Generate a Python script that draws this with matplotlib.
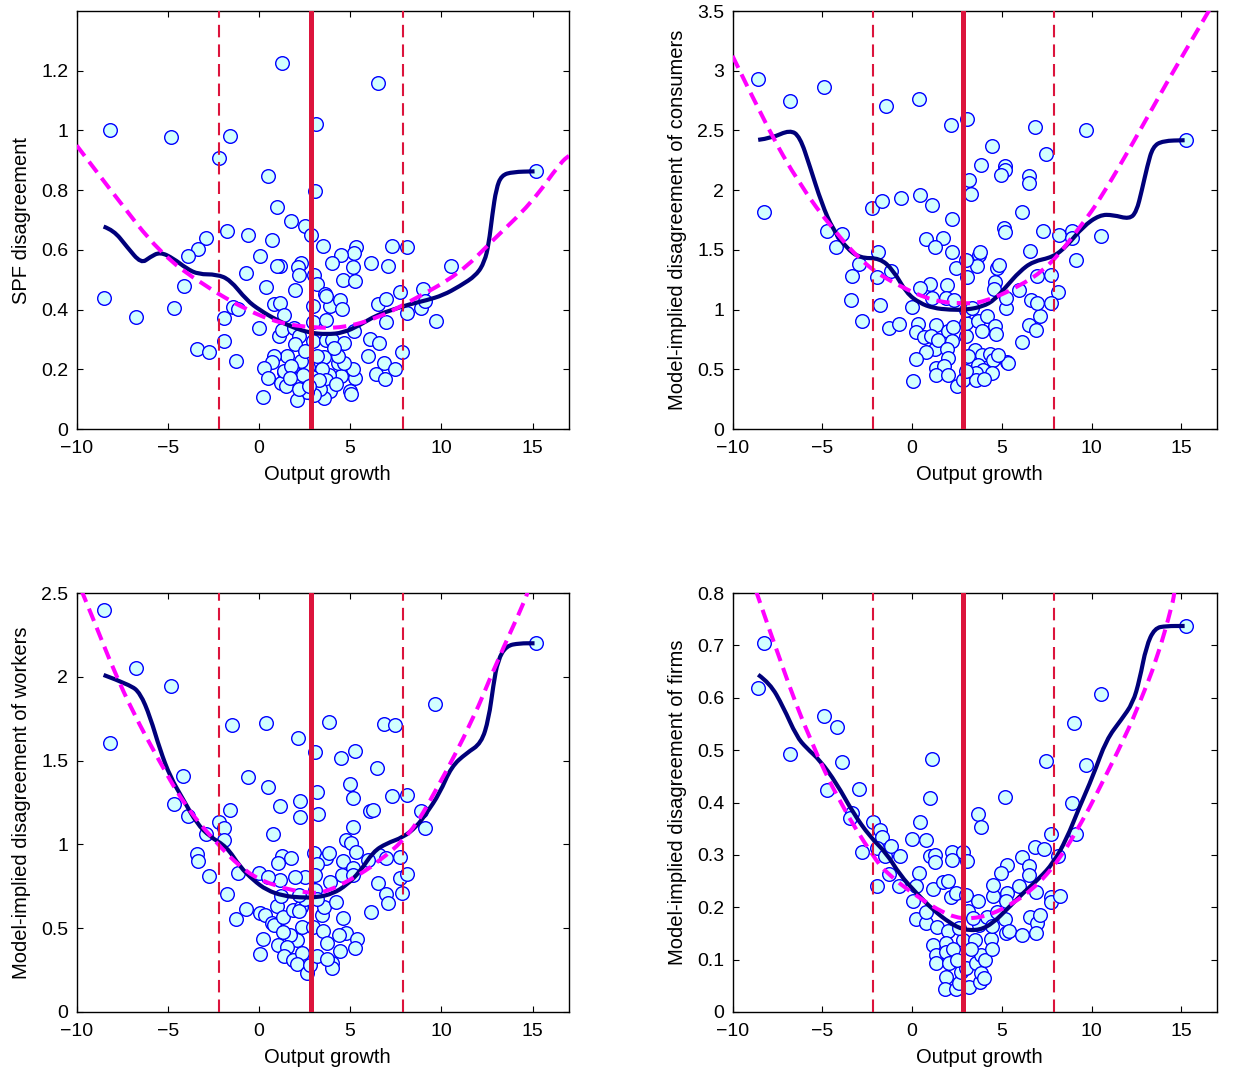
import matplotlib
matplotlib.use("Agg")
import matplotlib.pyplot as plt
from matplotlib.path import Path
from matplotlib.patches import PathPatch

plt.rcParams['font.family'] = ['Liberation Sans', 'DejaVu Sans']

# vertical reference lines (output growth)
band_lo, band_mid, band_hi = -2.2, 2.85, 7.92

# scatter points (output growth, disagreement)
spf_pts = [(1.28, 1.225), (6.53, 1.158), (-8.16, 1.003), (-4.85, 0.978), (-1.61, 0.981), (3.12, 1.02),
           (-2.17, 0.907), (0.47, 0.847), (3.07, 0.796), (15.2, 0.863), (1.0, 0.742), (1.77, 0.698),
           (2.5, 0.68), (2.88, 0.651), (-1.73, 0.664), (-0.6, 0.651), (0.69, 0.634), (-2.92, 0.639),
           (-3.34, 0.603), (-3.89, 0.578), (3.5, 0.613), (7.3, 0.614), (8.14, 0.608), (5.31, 0.609),
           (5.2, 0.588), (4.49, 0.583), (0.07, 0.578), (6.15, 0.557), (3.98, 0.556), (2.28, 0.556),
           (2.15, 0.543), (1.13, 0.546), (0.99, 0.546), (7.06, 0.546), (10.51, 0.546), (5.16, 0.543),
           (-0.71, 0.524), (2.19, 0.517), (3.01, 0.515), (4.6, 0.5), (5.29, 0.497), (3.16, 0.485),
           (-4.12, 0.479), (0.38, 0.476), (1.99, 0.465), (7.72, 0.458), (8.98, 0.469), (-8.52, 0.439),
           (3.63, 0.452), (-6.72, 0.375), (-4.67, 0.405), (-3.41, 0.269), (-2.74, 0.259), (-1.92, 0.294),
           (-1.92, 0.372), (-1.44, 0.407), (-1.13, 0.401), (-1.28, 0.227), (0.02, 0.337), (0.8, 0.42),
           (1.15, 0.422), (1.37, 0.381), (1.09, 0.311), (1.24, 0.331), (1.93, 0.337), (2.17, 0.312),
           (1.95, 0.284), (2.96, 0.411), (2.97, 0.358), (3.7, 0.365), (3.89, 0.411), (3.65, 0.447),
           (4.47, 0.432), (4.56, 0.402), (2.97, 0.295), (3.65, 0.298), (3.98, 0.298), (4.65, 0.289),
           (5.2, 0.328), (6.11, 0.303), (6.57, 0.289), (6.5, 0.418), (6.95, 0.435), (6.99, 0.357),
           (8.13, 0.387), (8.9, 0.404), (9.12, 0.428), (9.69, 0.361), (7.84, 0.257), (5.96, 0.245),
           (6.86, 0.222), (7.48, 0.2), (6.44, 0.184), (6.9, 0.166), (5.29, 0.17), (5.16, 0.2),
           (4.98, 0.128), (5.04, 0.117), (4.49, 0.178), (4.34, 0.22), (4.65, 0.22), (4.36, 0.245),
           (3.58, 0.242), (3.86, 0.18), (3.44, 0.2), (3.67, 0.164), (3.89, 0.127), (3.58, 0.105),
           (3.34, 0.134), (3.01, 0.114), (2.65, 0.125), (2.67, 0.208), (2.92, 0.175), (2.28, 0.227),
           (1.82, 0.2), (2.06, 0.166), (2.06, 0.097), (1.38, 0.192), (1.52, 0.245), (0.84, 0.245),
           (0.73, 0.223), (0.27, 0.203), (0.51, 0.172), (0.24, 0.108), (1.19, 0.153), (1.46, 0.144),
           (1.37, 0.194), (1.73, 0.212), (2.39, 0.18), (2.5, 0.26), (3.2, 0.245), (4.1, 0.27),
           (2.2, 0.135), (3.3, 0.165), (4.2, 0.15), (1.7, 0.17), (2.75, 0.145)]

cons_pts = [(-8.57, 2.934), (-6.77, 2.747), (-4.9, 2.867), (-8.24, 1.821), (-1.46, 2.705), (0.36, 2.767),
            (2.15, 2.549), (3.06, 2.597), (6.87, 2.53), (9.7, 2.507), (15.23, 2.418), (4.47, 2.373),
            (7.48, 2.304), (3.86, 2.209), (5.16, 2.198), (5.2, 2.17), (4.97, 2.128), (6.49, 2.122),
            (6.53, 2.061), (3.17, 2.086), (3.27, 1.969), (-2.23, 1.849), (-1.65, 1.913), (-0.63, 1.933),
            (0.43, 1.961), (1.11, 1.874), (2.25, 1.762), (6.12, 1.816), (-4.76, 1.659), (-3.9, 1.634),
            (-4.21, 1.526), (0.76, 1.595), (1.75, 1.598), (1.26, 1.526), (5.12, 1.679), (5.17, 1.65),
            (7.29, 1.662), (8.16, 1.626), (8.9, 1.654), (8.92, 1.6), (10.54, 1.618), (9.11, 1.417),
            (6.55, 1.492), (-1.91, 1.486), (-2.95, 1.383), (-3.37, 1.277), (-1.95, 1.269), (-1.17, 1.319),
            (2.25, 1.478), (2.43, 1.347), (3.73, 1.459), (3.78, 1.48), (3.64, 1.361), (3.03, 1.417),
            (3.08, 1.269), (4.75, 1.347), (4.83, 1.37), (4.6, 1.235), (4.55, 1.172), (1.02, 1.216),
            (1.97, 1.208), (0.43, 1.177), (5.94, 1.166), (6.98, 1.283), (7.72, 1.291), (8.13, 1.143),
            (-3.41, 1.079), (-1.78, 1.038), (-2.78, 0.904), (-1.3, 0.845), (-0.74, 0.879), (0.02, 1.021),
            (1.11, 1.096), (1.91, 1.101), (2.32, 1.082), (0.33, 0.881), (0.21, 0.812), (0.69, 0.77),
            (1.36, 0.873), (1.08, 0.775), (1.26, 0.672), (0.76, 0.641), (0.24, 0.586), (0.06, 0.398),
            (1.47, 0.747), (2.0, 0.817), (2.28, 0.85), (2.25, 0.741), (1.95, 0.672), (2.0, 0.594),
            (1.36, 0.51), (1.78, 0.524), (1.36, 0.449), (2.0, 0.449), (2.53, 0.357), (2.84, 0.413),
            (3.03, 0.775), (2.99, 0.887), (3.03, 0.998), (3.36, 1.013), (3.67, 0.906), (3.9, 0.823),
            (4.17, 0.942), (4.6, 0.864), (4.66, 0.795), (3.49, 0.658), (3.12, 0.608), (3.9, 0.62),
            (4.36, 0.63), (4.51, 0.58), (3.67, 0.538), (3.95, 0.491), (4.47, 0.469), (3.58, 0.469),
            (3.58, 0.413), (3.99, 0.418), (5.21, 1.009), (5.25, 1.096), (5.29, 0.557), (5.35, 0.55),
            (6.14, 0.725), (6.51, 0.87), (6.92, 0.831), (7.11, 0.942), (6.61, 1.082), (6.96, 1.059),
            (7.72, 1.059), (2.99, 0.482), (4.79, 0.622)]

work_pts = [(-8.52, 2.4), (-6.72, 2.051), (-4.85, 1.948), (-8.16, 1.603), (15.2, 2.2), (9.67, 1.836),
            (-1.46, 1.713), (0.4, 1.723), (3.85, 1.729), (6.84, 1.719), (7.46, 1.713), (2.13, 1.633),
            (3.05, 1.55), (4.49, 1.514), (5.29, 1.557), (6.48, 1.456), (-4.14, 1.408), (-0.6, 1.404),
            (0.48, 1.344), (3.16, 1.314), (4.98, 1.362), (5.16, 1.278), (7.3, 1.29), (8.14, 1.293),
            (2.24, 1.26), (1.13, 1.229), (2.24, 1.163), (3.25, 1.183), (-4.67, 1.241), (-3.89, 1.171),
            (-1.6, 1.207), (6.11, 1.199), (6.24, 1.205), (8.9, 1.199), (9.12, 1.096), (-2.17, 1.135),
            (-1.9, 1.096), (-1.92, 1.026), (-2.92, 1.062), (0.78, 1.062), (5.16, 1.102), (4.75, 1.026),
            (5.02, 1.006), (5.31, 0.956), (-3.41, 0.94), (-3.34, 0.9), (1.26, 0.932), (1.75, 0.916),
            (1.02, 0.892), (3.01, 0.95), (3.65, 0.916), (3.85, 0.946), (4.62, 0.902), (6.58, 0.936),
            (6.99, 0.916), (7.72, 0.926), (5.98, 0.906), (-2.74, 0.811), (-1.13, 0.827), (0.02, 0.827),
            (7.72, 0.8), (8.14, 0.821), (-1.77, 0.703), (-1.26, 0.552), (-0.73, 0.613), (0.05, 0.588),
            (0.33, 0.58), (0.69, 0.532), (0.8, 0.52), (1.0, 0.631), (1.3, 0.568), (1.19, 0.691),
            (1.88, 0.608), (2.28, 0.627), (2.2, 0.6), (2.34, 0.508), (2.06, 0.432), (1.7, 0.458),
            (1.33, 0.478), (0.24, 0.434), (0.05, 0.349), (1.06, 0.398), (1.55, 0.388), (1.37, 0.333),
            (1.88, 0.309), (2.34, 0.352), (2.06, 0.289), (2.61, 0.235), (2.79, 0.279), (2.97, 0.508),
            (3.19, 0.333), (3.52, 0.482), (3.71, 0.412), (3.43, 0.578), (3.57, 0.627), (4.21, 0.657),
            (3.92, 0.777), (4.53, 0.817), (5.13, 0.86), (5.15, 0.82), (4.62, 0.558), (4.76, 0.472),
            (4.4, 0.462), (4.43, 0.364), (5.4, 0.438), (5.25, 0.382), (3.98, 0.293), (3.98, 0.26),
            (3.71, 0.319), (6.17, 0.594), (6.53, 0.767), (6.95, 0.707), (7.08, 0.651), (7.84, 0.711),
            (3.16, 0.886), (3.08, 0.817), (2.52, 0.807), (1.97, 0.807), (1.15, 0.787), (0.51, 0.807),
            (3.07, 0.727), (3.16, 0.677), (2.52, 0.677), (2.2, 0.7)]

firm_pts = [(-8.57, 0.619), (-8.24, 0.704), (-6.77, 0.492), (-4.9, 0.566), (-4.17, 0.545), (-3.9, 0.478),
            (-4.76, 0.424), (-2.95, 0.425), (-3.37, 0.38), (-3.45, 0.37), (-2.2, 0.363), (-2.78, 0.305),
            (-1.76, 0.347), (-1.65, 0.335), (-1.95, 0.313), (-1.48, 0.298), (-1.15, 0.317), (-0.65, 0.297),
            (-1.31, 0.264), (1.11, 0.483), (1.02, 0.408), (0.43, 0.363), (0.0, 0.33), (0.76, 0.329),
            (1.02, 0.298), (1.26, 0.3), (1.26, 0.286), (0.37, 0.265), (2.25, 0.305), (2.25, 0.291),
            (2.84, 0.306), (3.06, 0.289), (3.69, 0.378), (3.86, 0.354), (5.18, 0.41), (7.48, 0.48),
            (7.72, 0.34), (6.12, 0.296), (6.87, 0.315), (7.33, 0.311), (6.51, 0.279), (5.29, 0.281),
            (4.97, 0.265), (8.13, 0.297), (9.02, 0.551), (9.7, 0.471), (10.54, 0.607), (8.9, 0.4),
            (9.15, 0.34), (15.23, 0.737), (-1.93, 0.24), (-0.72, 0.241), (0.06, 0.212), (0.21, 0.177),
            (0.24, 0.241), (0.76, 0.17), (0.8, 0.19), (1.17, 0.235), (1.17, 0.128), (1.39, 0.163),
            (1.32, 0.109), (1.36, 0.093), (1.73, 0.248), (2.0, 0.25), (2.19, 0.219), (2.42, 0.228),
            (2.0, 0.154), (1.91, 0.132), (1.91, 0.115), (2.06, 0.093), (1.91, 0.067), (1.82, 0.044),
            (2.47, 0.044), (2.64, 0.056), (2.75, 0.077), (2.84, 0.138), (3.03, 0.224), (3.12, 0.192),
            (3.17, 0.048), (3.03, 0.084), (3.49, 0.138), (3.58, 0.093), (3.77, 0.058), (3.86, 0.074),
            (3.99, 0.065), (3.86, 0.109), (4.06, 0.1), (3.73, 0.167), (3.67, 0.211), (4.17, 0.182),
            (4.42, 0.139), (4.45, 0.12), (4.45, 0.165), (4.51, 0.222), (4.51, 0.243), (4.73, 0.19),
            (5.16, 0.177), (5.25, 0.151), (5.4, 0.155), (5.29, 0.227), (5.22, 0.212), (5.95, 0.24),
            (6.12, 0.147), (6.51, 0.262), (6.55, 0.182), (6.92, 0.23), (6.96, 0.17), (6.92, 0.151),
            (7.11, 0.185), (7.76, 0.219), (7.76, 0.21), (8.22, 0.221), (2.3, 0.12), (3.3, 0.12),
            (2.6, 0.16), (3.4, 0.18), (2.5, 0.1)]

# smoothed (navy) curves
spf_smooth = [(-8.52, 0.678), (-7.97, 0.666), (-7.24, 0.61), (-6.46, 0.554), (-5.97, 0.576), (-5.42, 0.593),
              (-4.69, 0.571), (-3.96, 0.537), (-3.32, 0.518), (-2.32, 0.518), (-1.59, 0.5), (-0.67, 0.431),
              (0.05, 0.398), (0.97, 0.365), (1.88, 0.34), (2.79, 0.322), (3.71, 0.317), (4.62, 0.322),
              (5.53, 0.348), (6.44, 0.381), (7.35, 0.4), (8.27, 0.418), (9.18, 0.431), (10.09, 0.448),
              (11.0, 0.478), (11.92, 0.515), (12.37, 0.56), (12.6, 0.62), (12.8, 0.72), (13.01, 0.805),
              (13.3, 0.85), (13.92, 0.861), (15.11, 0.863)]
cons_smooth = [(-8.57, 2.421), (-7.83, 2.435), (-6.8, 2.505), (-6.25, 2.449), (-5.69, 2.198), (-5.04, 1.891),
               (-4.4, 1.668), (-3.65, 1.515), (-2.91, 1.431), (-1.8, 1.431), (-1.06, 1.333), (-0.31, 1.138),
               (0.43, 1.054), (1.17, 1.013), (2.1, 0.998), (3.03, 0.998), (3.95, 1.026), (4.6, 1.082),
               (5.25, 1.193), (5.99, 1.319), (6.73, 1.403), (7.85, 1.439), (8.59, 1.528), (9.52, 1.695),
               (10.45, 1.793), (11.19, 1.793), (12.11, 1.757), (12.5, 1.82), (12.8, 2.0), (13.1, 2.2),
               (13.41, 2.365), (13.97, 2.413), (15.18, 2.418)]
work_smooth = [(-8.52, 2.011), (-7.06, 1.952), (-6.51, 1.902), (-5.97, 1.762), (-5.42, 1.563), (-4.87, 1.404),
               (-4.14, 1.265), (-3.41, 1.125), (-2.68, 1.045), (-1.77, 0.986), (-1.04, 0.866), (-0.31, 0.787),
               (0.42, 0.727), (1.33, 0.693), (2.24, 0.683), (3.16, 0.683), (4.07, 0.707), (4.8, 0.757),
               (5.53, 0.836), (6.26, 0.956), (6.99, 1.006), (7.9, 1.042), (8.63, 1.105), (9.18, 1.185),
               (9.91, 1.305), (10.55, 1.464), (11.37, 1.544), (12.19, 1.603), (12.6, 1.75), (12.85, 1.95),
               (13.1, 2.1), (13.56, 2.185), (14.29, 2.2), (15.11, 2.2)]
firm_smooth = [(-8.57, 0.644), (-7.92, 0.628), (-7.18, 0.583), (-6.43, 0.526), (-5.88, 0.504), (-5.14, 0.481),
               (-4.21, 0.437), (-3.28, 0.38), (-2.35, 0.335), (-1.42, 0.303), (-0.68, 0.262), (0.24, 0.227),
               (1.17, 0.195), (2.1, 0.17), (2.84, 0.157), (3.77, 0.156), (4.51, 0.17), (5.25, 0.195),
               (6.18, 0.227), (7.11, 0.256), (7.85, 0.284), (8.59, 0.329), (9.33, 0.392), (10.07, 0.45),
               (10.82, 0.52), (11.65, 0.558), (12.3, 0.59), (12.67, 0.634), (13.04, 0.698), (13.51, 0.733),
               (14.16, 0.737), (15.18, 0.737)]

# fitted (magenta dashed) curves
spf_fit = [(-10.0, 0.95), (-7.99, 0.788), (-5.42, 0.588), (-3.05, 0.482), (-0.67, 0.398), (1.15, 0.354),
           (2.97, 0.339), (4.62, 0.339), (6.44, 0.37), (8.27, 0.426), (11.0, 0.52), (12.82, 0.632),
           (14.92, 0.755), (16.56, 0.894), (17.0, 0.915)]
cons_fit = [(-10.0, 3.124), (-8.1, 2.532), (-6.25, 2.044), (-4.4, 1.668), (-2.54, 1.361), (-0.68, 1.193),
            (1.2, 1.07), (2.84, 1.049), (3.95, 1.06), (5.81, 1.18), (7.66, 1.361), (9.52, 1.724),
            (10.45, 1.919), (12.3, 2.393), (14.16, 2.895), (16.29, 3.439), (16.6, 3.52)]
work_fit = [(-9.75, 2.52), (-9.07, 2.34), (-7.97, 2.041), (-6.88, 1.783), (-5.6, 1.523), (-4.14, 1.245),
            (-2.5, 1.026), (-0.67, 0.827), (0.97, 0.747), (2.79, 0.707), (3.71, 0.717), (5.16, 0.797),
            (6.44, 0.886), (8.27, 1.056), (9.73, 1.324), (11.73, 1.742), (13.01, 2.081), (14.65, 2.47),
            (14.75, 2.52)]
firm_fit = [(-8.7, 0.805), (-7.18, 0.653), (-5.69, 0.52), (-4.02, 0.399), (-2.17, 0.297), (-1.42, 0.265),
            (0.24, 0.221), (2.1, 0.182), (3.39, 0.177), (4.88, 0.192), (6.73, 0.233), (8.22, 0.291),
            (9.52, 0.367), (10.26, 0.415), (11.93, 0.53), (12.67, 0.59), (13.6, 0.67), (14.52, 0.78),
            (14.62, 0.805)]

panels = [
    (spf_pts, spf_smooth, spf_fit, 'SPF disagreement', 1.4, [0, 0.2, 0.4, 0.6, 0.8, 1, 1.2], ['0', '0.2', '0.4', '0.6', '0.8', '1', '1.2']),
    (cons_pts, cons_smooth, cons_fit, 'Model-implied disagreement of consumers', 3.5, [0, 0.5, 1, 1.5, 2, 2.5, 3, 3.5], ['0', '0.5', '1', '1.5', '2', '2.5', '3', '3.5']),
    (work_pts, work_smooth, work_fit, 'Model-implied disagreement of workers', 2.5, [0, 0.5, 1, 1.5, 2, 2.5], ['0', '0.5', '1', '1.5', '2', '2.5']),
    (firm_pts, firm_smooth, firm_fit, 'Model-implied disagreement of firms', 0.8, [0, 0.1, 0.2, 0.3, 0.4, 0.5, 0.6, 0.7, 0.8], ['0', '0.1', '0.2', '0.3', '0.4', '0.5', '0.6', '0.7', '0.8']),
]


def curve(ax, pts, **kw):
    # rounded path through the read points (quadratic segments between midpoints)
    verts = [pts[0]]
    codes = [Path.MOVETO]
    for i in range(1, len(pts) - 1):
        mid = ((pts[i][0] + pts[i + 1][0]) / 2, (pts[i][1] + pts[i + 1][1]) / 2)
        verts += [pts[i], mid]
        codes += [Path.CURVE3, Path.CURVE3]
    verts.append(pts[-1])
    codes.append(Path.LINETO)
    ax.add_patch(PathPatch(Path(verts, codes), fill=False, capstyle='butt', **kw))


W, H = 1237, 1073
rects = [(76.6, 11, 569, 429), (732.5, 11, 1217.3, 429),
         (76.6, 593, 569, 1012), (732.5, 593, 1217.3, 1012)]

fig = plt.figure(figsize=(W / 100, H / 100), dpi=100)

for (pts, smooth, fit, ylab, ymax, yt, ytl), (l, t, r, b) in zip(panels, rects):
    ax = fig.add_axes([l / W, 1 - b / H, (r - l) / W, (b - t) / H])
    px = [p[0] for p in pts]
    py = [p[1] for p in pts]
    ax.plot(px, py, 'o', ms=9.8, mfc='#d2ffff', mec='#0000ff', mew=1.0, zorder=2)
    curve(ax, smooth, edgecolor='#00007a', lw=3.0, zorder=3)
    curve(ax, fit, edgecolor='#ff00ff', lw=2.9, linestyle=(0, (3.3, 1.8)), zorder=4)
    ax.axvline(band_mid, color='#dc143c', lw=3.6, zorder=5)
    for xv in (band_lo, band_hi):
        ax.axvline(xv, color='#dc143c', lw=1.5, dashes=(6.0, 3.4), zorder=5)
    ax.set_xlim(-10, 17)
    ax.set_ylim(0, ymax)
    ax.set_xticks([-10, -5, 0, 5, 10, 15])
    ax.set_yticks(yt)
    ax.set_yticklabels(ytl)
    ax.tick_params(direction='in', length=4, width=0.8, top=True, right=True, labelsize=14)
    ax.tick_params(axis='x', pad=8)
    ax.tick_params(axis='y', pad=6)
    for s in ax.spines.values():
        s.set_linewidth(1.0)
    ax.set_xlabel('Output growth', fontsize=14.5)
    ax.xaxis.set_label_coords(0.51, -0.085)
    ax.set_ylabel(ylab, fontsize=14.5)
    ax.yaxis.set_label_coords(-0.093, 0.5)

fig.savefig('out.png', dpi=100)
